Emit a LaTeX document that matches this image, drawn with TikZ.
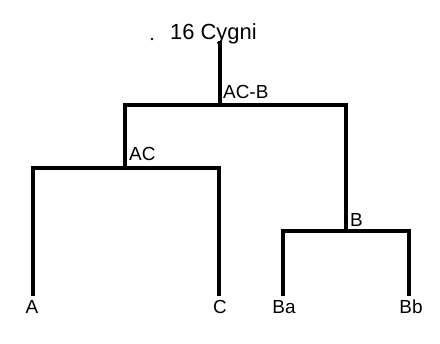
\documentclass[tikz,border=0pt]{standalone}
\usepackage{fontspec}
\setmainfont{Liberation Sans}
\begin{document}
\begin{tikzpicture}[
		x = 1bp, y = -1bp,
		br/.style   = {line width=3.2bp, line cap=rect},
		lbl/.style  = {font=\fontsize{19}{22}\selectfont, inner sep=0pt},
		ttl/.style  = {font=\fontsize{22}{26}\selectfont, inner sep=0pt},
		dotmark/.style = {circle, fill=black, inner sep=0.9bp}
		]
		\useasboundingbox (0,0) rectangle (440,343);
		
		\node[dotmark] (dot) at (152,39) {};
		\node[ttl, anchor=base west] (cyg) at (170,39) {16 Cygni};
		
		\coordinate (top) at (220,43);
		\coordinate (acb) at (220,105);
		\coordinate (ac)  at (125,168);
		\coordinate (b)   at (346,231);
		
		\coordinate (ea)  at (33,294);
		\coordinate (ec)  at (219,294);
		\coordinate (eba) at (283,294);
		\coordinate (ebb) at (409,294);
		
		\node[lbl, anchor=base west] (lacb) at (223,98)  {AC-B};
		\node[lbl, anchor=base west] (lac)  at (129,160) {AC};
		\node[lbl, anchor=base west] (lb)   at (350,226) {B};
		
		\node[lbl, anchor=base] (na)  at (32,313)  {A};
		\node[lbl, anchor=base] (nc)  at (220,313) {C};
		\node[lbl, anchor=base] (nba) at (284,313) {Ba};
		\node[lbl, anchor=base] (nbb) at (411,313) {Bb};
		
		\draw[br] (top)--(acb);
		\draw[br] (ac) |- (acb) -| (b);
		\draw[br] (ea) |- (ac) -| (ec);
		\draw[br] (eba) |- (b) -| (ebb);
	\end{tikzpicture}
\end{document}
